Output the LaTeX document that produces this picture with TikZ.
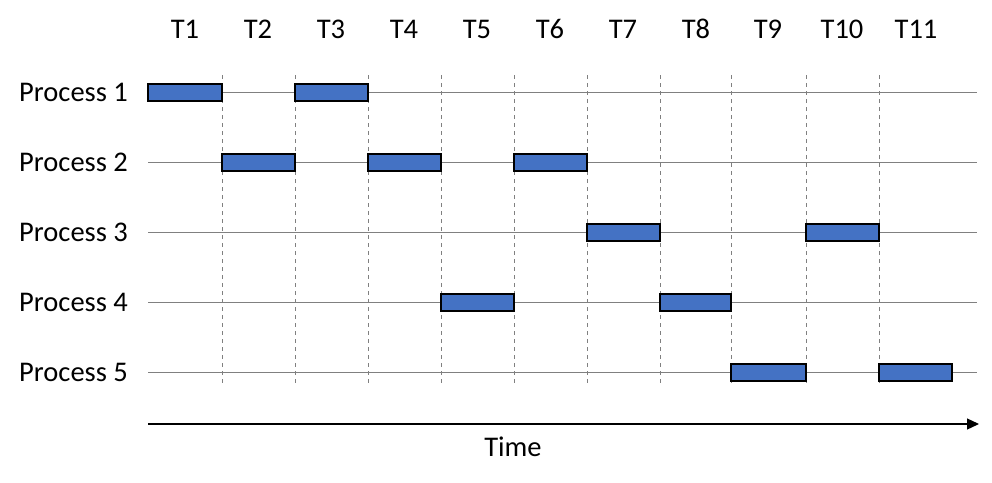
\documentclass[tikz,border=0pt]{standalone}
\usepackage{fontspec}
\setmainfont{Carlito}
\usetikzlibrary{arrows.meta}
\definecolor{barblue}{HTML}{4472C4}
\definecolor{gridgray}{HTML}{808080}
\begin{document}
\begin{tikzpicture}[x=1pt,y=-1pt,
  lbl/.style={font=\fontsize{28.5}{31}\selectfont,inner sep=0pt},
  gridline/.style={draw=gridgray,line width=0.9pt},
  vdash/.style={draw=gridgray,line width=0.9pt,dash pattern=on 4pt off 4pt},
  bar/.style={draw=black,fill=barblue,line width=2pt}]
\useasboundingbox (0,0) rectangle (992,482);
% vertical dashed lines
\foreach \x in {222,295,368,441,514,587,660,731,806,879}
  \draw[vdash] (\x,75) -- (\x,386);
% horizontal lines and labels
\foreach \y/\n in {92/1,162/2,232/3,302/4,372/5} {
  \draw[gridline] (148,\y) -- (977,\y);
  \node[lbl,anchor=base west] (p\n) at (19,\y+9.7) {Process \n};
}
% time labels
\foreach \x/\t in {185/1,258/2,331/3,404/4,477/5,550/6,623/7,696/8,768/9,842/10,916/11}
  \node[lbl,anchor=base] (t\t) at (\x,38.3) {T\t};
% bars
\foreach \a/\b/\y in {148/222/92,295/368/92,222/295/162,368/441/162,514/587/162,587/660/232,806/879/232,441/514/302,660/731/302,731/806/372,879/952/372}
  \draw[bar] (\a,\y-8.5) rectangle (\b,\y+8.5);
% time axis
\coordinate (ax0) at (148,424);
\coordinate (ax1) at (979,424);
\draw[line width=1.2pt,-{Triangle[length=12pt,width=11pt]}] (ax0) -- (ax1);
\node[lbl,anchor=base] (time) at (513,456.7) {Time};
\end{tikzpicture}
\end{document}
